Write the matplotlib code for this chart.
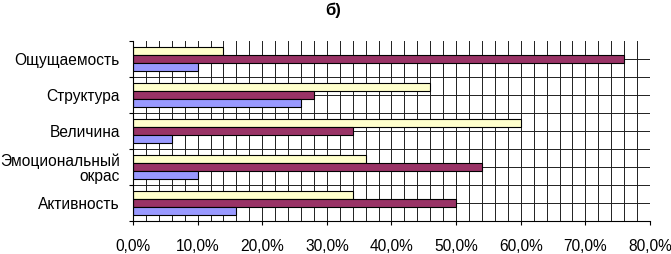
import matplotlib
matplotlib.use('Agg')
import matplotlib.pyplot as plt
from matplotlib.ticker import FuncFormatter, MultipleLocator
import numpy as np

# Data (percent), categories listed top to bottom
categories = ['Ощущаемость', 'Структура', 'Величина', 'Эмоциональный\nокрас', 'Активность']
series_yellow = [14, 46, 60, 36, 34]
series_purple = [76, 28, 34, 54, 50]
series_blue = [10, 26, 6, 10, 16]

YELLOW = '#FFFFCC'
PURPLE = '#993366'
BLUE = '#9999FF'

plt.rcParams['font.family'] = ['Liberation Sans', 'DejaVu Sans']

fig = plt.figure(figsize=(6.71, 2.54), dpi=100)
ax = fig.add_axes([0.1982, 0.130, 0.7705, 0.7086])

y = np.arange(len(categories))
h = 0.21
for vals, off, col in [(series_yellow, -0.215, YELLOW),
                       (series_purple, 0.0, PURPLE),
                       (series_blue, 0.215, BLUE)]:
    ax.barh(y + off, vals, height=h, color=col, edgecolor='black',
            linewidth=0.8, zorder=3)

ax.set_xlim(0, 80)
ax.set_ylim(len(categories) - 0.5, -0.5)

# grid: vertical every 2%, horizontal at centers and boundaries
ax.xaxis.set_major_locator(MultipleLocator(10))
ax.xaxis.set_minor_locator(MultipleLocator(2))
ax.xaxis.grid(True, which='both', color='#202020', linewidth=0.7, zorder=0)
ax.xaxis.set_major_formatter(FuncFormatter(lambda v, p: f'{v:.1f}%'.replace('.', ',')))
ax.tick_params(axis='x', which='major', length=3, width=0.8, direction='out',
               labelsize=11.2, pad=10)
ax.tick_params(axis='x', which='minor', length=0)

ax.set_yticks(y)
ax.set_yticklabels(categories, ha='right', linespacing=1.0)
ax.set_yticks(np.arange(len(categories) + 1) - 0.5, minor=True)
ax.tick_params(axis='y', which='major', length=0, labelsize=11.2, pad=9.5)
ax.tick_params(axis='y', which='minor', length=3, width=0.8, direction='out')
ax.hlines(list(y) + list(np.arange(1, len(categories)) - 0.5), 0, 80,
          color='#202020', linewidth=0.7, zorder=0)

for s in ['top', 'right']:
    ax.spines[s].set_visible(False)
for s in ['left', 'bottom']:
    ax.spines[s].set_linewidth(0.8)
    ax.spines[s].set_zorder(4)

fig.text(0.497, 0.958, 'б)', ha='center', va='center', fontsize=12,
         fontweight='bold')

fig.savefig('out.png', dpi=100, facecolor='white')
